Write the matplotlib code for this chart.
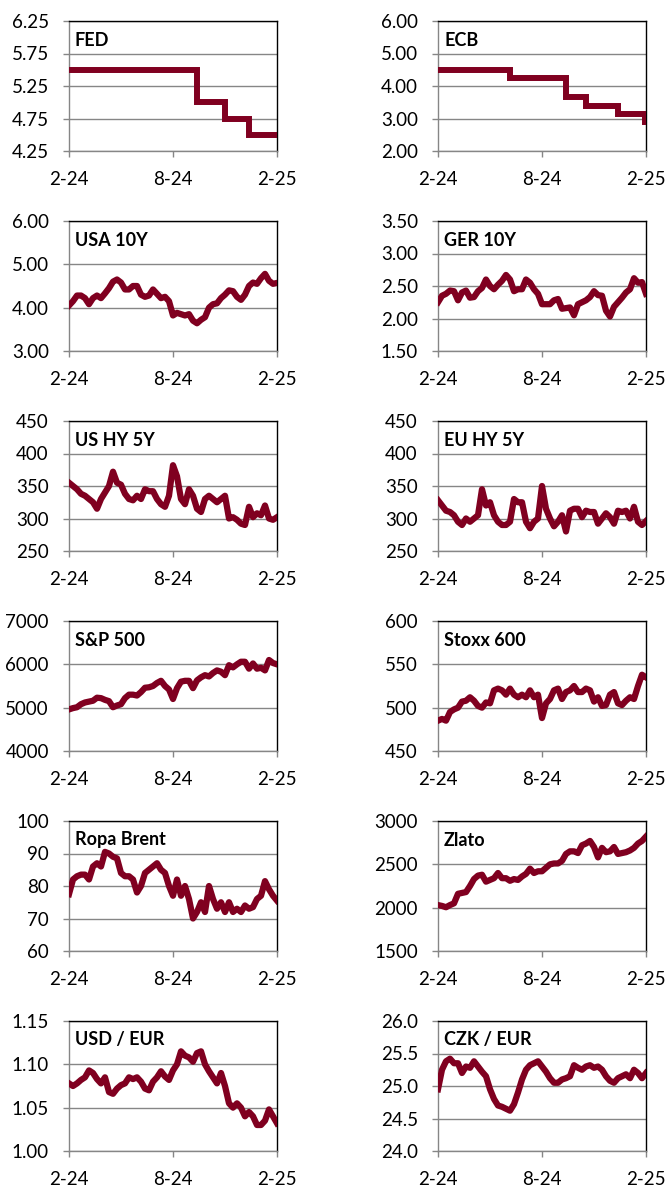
import numpy as np
import pandas as pd
import matplotlib
matplotlib.use("Agg")
import matplotlib.pyplot as plt

plt.rcParams['font.family'] = ['Lato', 'DejaVu Sans']

# Obdobi grafu
start = pd.Timestamp("2024-02-06")
end = pd.Timestamp("2025-02-06")
tick_dates = [pd.Timestamp("2024-02-06"), pd.Timestamp("2024-08-07"), pd.Timestamp("2025-02-06")]
tick_labels = ["2-24", "8-24", "2-25"]

# Sazby centralnich bank (schodovite)
fed_dates = ["2024-02-06", "2024-09-18", "2024-11-07", "2024-12-18", "2025-02-06"]
fed_rate = [5.50, 5.00, 4.75, 4.50, 4.50]
ecb_dates = ["2024-02-06", "2024-06-12", "2024-09-18", "2024-10-23", "2024-12-18", "2025-02-05", "2025-02-06"]
ecb_rate = [4.50, 4.25, 3.65, 3.40, 3.15, 2.90, 2.90]

# Tydenni hodnoty
usa_10y = [4.05, 4.15, 4.28, 4.28, 4.22, 4.08, 4.22, 4.28, 4.22, 4.33, 4.45, 4.60, 4.65, 4.58,
           4.42, 4.42, 4.50, 4.50, 4.30, 4.25, 4.28, 4.42, 4.32, 4.22, 4.25, 4.15, 3.82, 3.88,
           3.85, 3.82, 3.85, 3.70, 3.64, 3.72, 3.78, 4.00, 4.08, 4.10, 4.22, 4.30, 4.40, 4.38,
           4.25, 4.18, 4.30, 4.50, 4.58, 4.55, 4.68, 4.78, 4.62, 4.55, 4.57]
ger_10y = [2.25, 2.35, 2.38, 2.43, 2.42, 2.28, 2.40, 2.43, 2.32, 2.33, 2.42, 2.47, 2.60, 2.50,
           2.45, 2.52, 2.58, 2.67, 2.60, 2.42, 2.45, 2.45, 2.60, 2.55, 2.45, 2.38, 2.22, 2.22,
           2.22, 2.28, 2.30, 2.15, 2.16, 2.17, 2.05, 2.22, 2.25, 2.28, 2.33, 2.42, 2.36, 2.35,
           2.12, 2.03, 2.18, 2.25, 2.32, 2.40, 2.45, 2.62, 2.55, 2.56, 2.38]
us_hy = [355, 350, 345, 338, 335, 330, 325, 315, 330, 340, 350, 372, 355, 352, 338, 330, 328,
         335, 330, 345, 342, 342, 330, 322, 318, 335, 382, 365, 330, 322, 345, 335, 315, 310,
         330, 335, 330, 325, 330, 335, 300, 302, 298, 292, 290, 318, 302, 308, 305, 320, 300,
         298, 302]
eu_hy = [328, 320, 312, 310, 305, 295, 290, 300, 295, 300, 305, 345, 320, 325, 305, 295, 290,
         290, 295, 330, 325, 325, 295, 285, 295, 300, 350, 315, 300, 288, 295, 305, 280, 312,
         315, 315, 302, 312, 310, 310, 292, 300, 308, 302, 292, 312, 310, 312, 300, 318, 295,
         290, 296]
sp500 = [4960, 4990, 5010, 5080, 5120, 5140, 5160, 5230, 5220, 5180, 5150, 5010, 5050, 5080,
         5220, 5300, 5300, 5280, 5360, 5460, 5470, 5500, 5570, 5620, 5500, 5420, 5200, 5450,
         5600, 5620, 5620, 5450, 5630, 5700, 5750, 5720, 5800, 5860, 5830, 5750, 5980, 5930,
         6000, 6060, 6060, 5900, 6020, 5900, 5920, 5860, 6100, 6030, 6000]
stoxx600 = [485, 487, 485, 495, 498, 500, 507, 508, 512, 508, 502, 500, 506, 505, 520, 522, 520,
            515, 522, 515, 512, 515, 512, 520, 512, 515, 488, 505, 510, 520, 522, 510, 518, 520,
            525, 518, 518, 522, 520, 507, 512, 502, 503, 515, 518, 505, 503, 508, 512, 510, 525,
            538, 535]
brent = [77.5, 82, 83, 83.5, 83.5, 82, 86, 87, 86, 90.5, 90, 89, 88.5, 84, 83, 83, 82, 78, 80,
         84, 85, 86, 87, 85, 84, 80, 77, 82, 77, 80, 76, 70, 72, 75, 72, 80, 76, 73, 75, 72, 75,
         72, 73, 72, 74, 73, 73.5, 76, 77, 81.5, 79, 77, 75.5]
zlato = [2030, 2020, 2005, 2030, 2050, 2160, 2170, 2180, 2250, 2330, 2370, 2380, 2300, 2320,
         2340, 2400, 2340, 2340, 2310, 2330, 2320, 2360, 2390, 2450, 2400, 2420, 2420, 2460,
         2500, 2510, 2510, 2540, 2620, 2650, 2650, 2630, 2720, 2740, 2770, 2700, 2580, 2690,
         2640, 2650, 2700, 2620, 2630, 2640, 2660, 2690, 2740, 2770, 2820]
usd_eur = [1.078, 1.075, 1.078, 1.082, 1.085, 1.093, 1.090, 1.083, 1.078, 1.085, 1.068, 1.066,
           1.072, 1.076, 1.078, 1.085, 1.083, 1.085, 1.080, 1.072, 1.070, 1.080, 1.085, 1.092,
           1.086, 1.082, 1.093, 1.100, 1.115, 1.110, 1.108, 1.103, 1.113, 1.115, 1.100, 1.092,
           1.085, 1.078, 1.090, 1.075, 1.055, 1.050, 1.055, 1.050, 1.040, 1.045, 1.040, 1.030,
           1.030, 1.035, 1.048, 1.040, 1.032]
czk_eur = [24.95, 25.25, 25.38, 25.42, 25.35, 25.35, 25.20, 25.30, 25.28, 25.38, 25.30, 25.22,
           25.15, 24.95, 24.80, 24.70, 24.68, 24.65, 24.62, 24.72, 24.90, 25.10, 25.25, 25.32,
           25.35, 25.38, 25.30, 25.22, 25.12, 25.05, 25.05, 25.10, 25.12, 25.15, 25.32, 25.28,
           25.25, 25.30, 25.32, 25.28, 25.30, 25.25, 25.15, 25.08, 25.05, 25.12, 25.15, 25.18,
           25.12, 25.25, 25.20, 25.12, 25.20]

panels = [
    ("FED", (fed_dates, fed_rate), True, (4.25, 6.25), 0.5, "{:.2f}"),
    ("ECB", (ecb_dates, ecb_rate), True, (2.0, 6.0), 1.0, "{:.2f}"),
    ("USA 10Y", usa_10y, False, (3.0, 6.0), 1.0, "{:.2f}"),
    ("GER 10Y", ger_10y, False, (1.5, 3.5), 0.5, "{:.2f}"),
    ("US HY 5Y", us_hy, False, (250, 450), 50, "{:.0f}"),
    ("EU HY 5Y", eu_hy, False, (250, 450), 50, "{:.0f}"),
    ("S&P 500", sp500, False, (4000, 7000), 1000, "{:.0f}"),
    ("Stoxx 600", stoxx600, False, (450, 600), 50, "{:.0f}"),
    ("Ropa Brent", brent, False, (60, 100), 10, "{:.0f}"),
    ("Zlato", zlato, False, (1500, 3000), 500, "{:.0f}"),
    ("USD / EUR", usd_eur, False, (1.00, 1.15), 0.05, "{:.2f}"),
    ("CZK / EUR", czk_eur, False, (24.0, 26.0), 0.5, "{:.1f}"),
]

W, H = 665, 1186
fig = plt.figure(figsize=(W / 100, H / 100), dpi=100)

line_color = "#800020"
axis_gray = "#868686"
col_left = [69, 438]
ax_w = 208
ax_h = 130

for i, (name, data, is_step, ylim, step, fmt) in enumerate(panels):
    row, col = divmod(i, 2)
    top = 21 + 200 * row
    ax = fig.add_axes([col_left[col] / W, 1 - (top + ax_h) / H, ax_w / W, ax_h / H])

    if is_step:
        d, v = data
        ax.step(pd.to_datetime(d), v, where="post", color=line_color, lw=4.3,
                solid_joinstyle="miter", zorder=3)
    else:
        dates = pd.date_range(start, end, periods=len(data))
        ax.plot(dates, data, color=line_color, lw=4.5, solid_joinstyle="round", zorder=3)

    ax.set_xlim(start, end)
    ax.set_ylim(*ylim)
    yt = np.arange(ylim[0], ylim[1] + step / 2, step)
    ax.set_yticks(yt)
    ax.set_yticklabels([fmt.format(t) for t in yt])
    ax.set_xticks(tick_dates)
    ax.set_xticklabels(tick_labels)
    ax.grid(axis="y", color=axis_gray, lw=1)
    ax.set_axisbelow(True)

    for s in ["top", "right"]:
        ax.spines[s].set_color("black")
        ax.spines[s].set_linewidth(1)
    for s in ["left", "bottom"]:
        ax.spines[s].set_color(axis_gray)
        ax.spines[s].set_linewidth(1)
    ax.tick_params(direction="out", length=4.5, width=1, color=axis_gray,
                   labelsize=13.5, pad=10, labelcolor="black")

    ax.text(6 / ax_w, 1 - 19 / ax_h, name, transform=ax.transAxes, fontsize=13,
            fontweight="bold", va="center", ha="left")

fig.savefig("out.png", dpi=100)
